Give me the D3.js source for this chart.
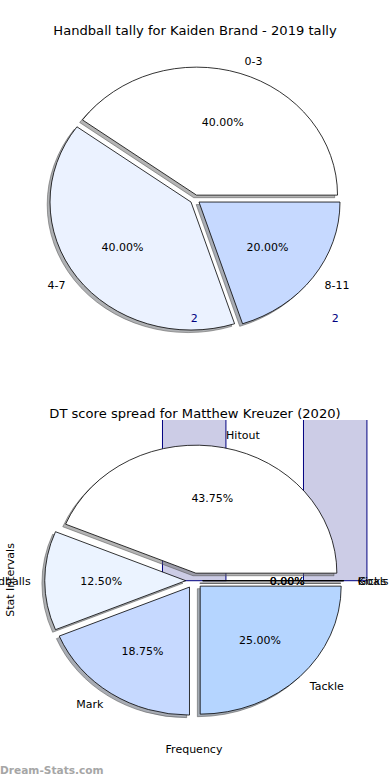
<!DOCTYPE html>
<html lang="en">
<head>
<meta charset="utf-8">
<title>Pie charts</title>
<script src="https://cdnjs.cloudflare.com/ajax/libs/d3/7.8.5/d3.min.js"></script>
<style>
  body { margin: 0; background: #fff; }
  svg text { font-family: "DejaVu Sans", sans-serif; }
</style>
</head>
<body>
<div id="canvas"></div>
<script>
// top pie data
const tallyLabels = ["0-3", "4-7", "8-11"];
const tallyValues = [4, 4, 2];
const tallyColors = ["#ffffff", "#ebf2ff", "#c6d9ff"];

// bottom pie data
const statLabels = ["Hitout", "Handballs", "Mark", "Tackle", "Goals", "Kicks"];
const statValues = [7, 2, 3, 4, 0, 0];
const statColors = ["#ffffff", "#ebf3ff", "#c6d9ff", "#b5d5ff", "#a8cdff", "#9ac4ff"];

// bars that sit behind the bottom pie
const barPos = [0, 1];
const barHeights = [2, 2];

const W = 390, H = 780;
const fs = 11;
const svg = d3.select("#canvas").append("svg")
    .attr("width", W)
    .attr("height", H);

// pixel size of one data unit (pie radius) in each direction
const rx = 141, ry = 128;

function makeScales(cx, cy) {
  const x = d3.scaleLinear().domain([-1, 1]).range([cx - rx, cx + rx]);
  const y = d3.scaleLinear().domain([-1, 1]).range([cy + ry, cy - ry]);
  return {x, y};
}

function wedgePath(d, sx, sy, ox, oy) {
  const a0 = d.startAngle, a1 = d.endAngle;
  const px = sx(1) - sx(0), py = sy(0) - sy(1);
  const large = (a1 - a0) > Math.PI ? 1 : 0;
  return `M${sx(ox)},${sy(oy)}` +
    `L${sx(ox + Math.cos(a0))},${sy(oy + Math.sin(a0))}` +
    `A${px},${py} 0 ${large} 0 ${sx(ox + Math.cos(a1))},${sy(oy + Math.sin(a1))}Z`;
}

function drawPie(g, labels, values, colors, sc, explode) {
  const arcs = d3.pie().sort(null).startAngle(0).endAngle(2 * Math.PI)(values);
  const total = d3.sum(values);
  arcs.forEach(d => {
    d.mid = (d.startAngle + d.endAngle) / 2;
    d.ox = explode * Math.cos(d.mid);
    d.oy = explode * Math.sin(d.mid);
  });

  // shadows
  g.append("g").selectAll("path")
    .data(arcs)
    .join("path")
      .attr("d", d => wedgePath(d, sc.x, sc.y, d.ox - 0.02, d.oy - 0.02))
      .attr("fill", (d, i) => d3.color(colors[i]).darker(2.5))
      .attr("fill-opacity", 0.5)
      .attr("stroke", "#4d4d4d")
      .attr("stroke-opacity", 0.5)
      .attr("stroke-width", 1);

  g.append("g").selectAll("path")
    .data(arcs)
    .join("path")
      .attr("d", d => wedgePath(d, sc.x, sc.y, d.ox, d.oy))
      .attr("fill", (d, i) => colors[i])
      .attr("stroke", "#000")
      .attr("stroke-width", 0.8)
      .attr("stroke-linejoin", "round");

  g.append("g").selectAll("text")
    .data(arcs)
    .join("text")
      .attr("x", d => sc.x(d.ox + 1.1 * Math.cos(d.mid)))
      .attr("y", d => sc.y(d.oy + 1.1 * Math.sin(d.mid)))
      .attr("dy", "0.35em")
      .attr("text-anchor", d => Math.cos(d.mid) > 0 ? "start" : "end")
      .attr("font-size", fs)
      .text((d, i) => labels[i]);

  g.append("g").selectAll("text")
    .data(arcs)
    .join("text")
      .attr("x", d => sc.x(d.ox + 0.6 * Math.cos(d.mid)))
      .attr("y", d => sc.y(d.oy + 0.6 * Math.sin(d.mid)))
      .attr("dy", "0.35em")
      .attr("text-anchor", "middle")
      .attr("font-size", fs)
      .text(d => (100 * d.value / total).toFixed(2) + "%");
}

// ---- top chart
const sc1 = makeScales(195, 199.4);
svg.append("text")
    .attr("x", 195).attr("y", 34.5)
    .attr("text-anchor", "middle")
    .attr("font-size", 13.1)
    .text("Handball tally for Kaiden Brand - 2019 tally");
drawPie(svg.append("g"), tallyLabels, tallyValues, tallyColors, sc1, 0.035);

// ---- bottom chart
const sc2 = makeScales(194.2, 580.7);
svg.append("defs").append("clipPath").attr("id", "ax2")
  .append("rect").attr("x", 0).attr("y", 420).attr("width", W).attr("height", 321);

const barW = 0.45;
svg.append("g").attr("clip-path", "url(#ax2)")
  .selectAll("rect")
  .data(barPos)
  .join("rect")
    .attr("x", d => sc2.x(d - barW / 2))
    .attr("width", sc2.x(barW) - sc2.x(0))
    .attr("y", (d, i) => sc2.y(barHeights[i]))
    .attr("height", (d, i) => sc2.y(0) - sc2.y(barHeights[i]))
    .attr("fill", "navy")
    .attr("fill-opacity", 0.2)
    .attr("stroke", "navy")
    .attr("stroke-width", 1);

svg.append("text")
    .attr("x", 195).attr("y", 417.5)
    .attr("text-anchor", "middle")
    .attr("font-size", 13.1)
    .text("DT score spread for Matthew Kreuzer (2020)");
drawPie(svg.append("g"), statLabels, statValues, statColors, sc2, 0.06);

// bar value labels (not clipped)
svg.append("g").selectAll("text")
  .data(barPos)
  .join("text")
    .attr("x", d => sc2.x(d))
    .attr("y", (d, i) => sc2.y(barHeights[i]) - 3)
    .attr("text-anchor", "middle")
    .attr("font-size", fs)
    .attr("fill", "navy")
    .text((d, i) => barHeights[i]);

svg.append("text")
    .attr("x", 194).attr("y", 749).attr("dy", "0.35em")
    .attr("text-anchor", "middle")
    .attr("font-size", fs)
    .text("Frequency");
svg.append("text")
    .attr("transform", "translate(10,580) rotate(-90)")
    .attr("dy", "0.35em")
    .attr("text-anchor", "middle")
    .attr("font-size", fs)
    .text("Stat Intervals");

svg.append("text")
    .attr("x", 0).attr("y", 774)
    .attr("font-size", 10.6)
    .attr("font-weight", "bold")
    .attr("fill", "#a6a6a6")
    .text("Dream-Stats.com");
</script>
</body>
</html>
